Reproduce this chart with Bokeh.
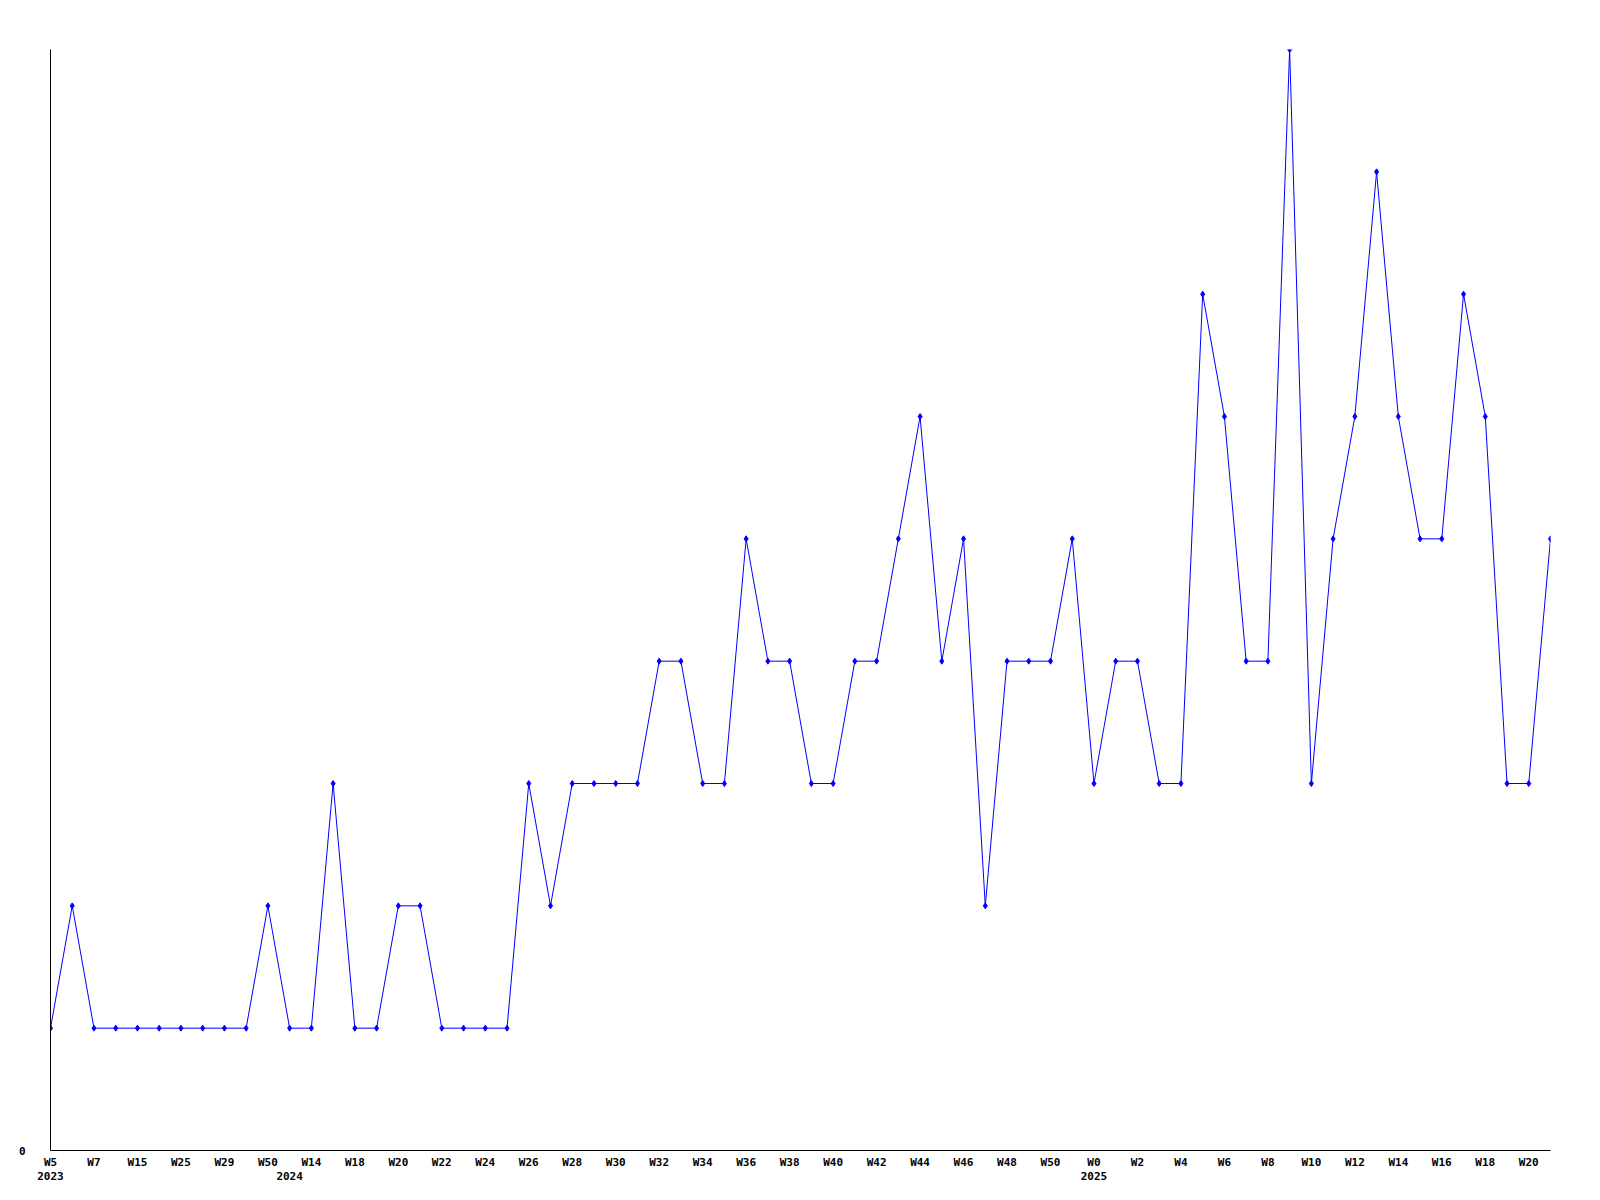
from bokeh.plotting import figure
from bokeh.models import Range1d, FixedTicker, LinearAxis
from bokeh.embed import file_html
from bokeh.resources import INLINE

# weekly counts, one per period (70 periods)
values = [1, 2, 1, 1, 1, 1, 1, 1, 1, 1,
          2, 1, 1, 3, 1, 1, 2, 2, 1, 1,
          1, 1, 3, 2, 3, 3, 3, 3, 4, 4,
          3, 3, 5, 4, 4, 3, 3, 4, 4, 5,
          6, 4, 5, 2, 4, 4, 4, 5, 3, 4,
          4, 3, 3, 7, 6, 4, 4, 9, 3, 5,
          6, 8, 6, 5, 5, 7, 6, 3, 3, 5]
x = list(range(len(values)))

# labelled tick positions (every second period) and their week labels
week_tick_idx = list(range(0, 70, 2))
week_tick_labels = ["W5", "W7", "W15", "W25", "W29", "W50", "W14", "W18", "W20", "W22",
                    "W24", "W26", "W28", "W30", "W32", "W34", "W36", "W38", "W40", "W42",
                    "W44", "W46", "W48", "W50", "W0", "W2", "W4", "W6", "W8", "W10",
                    "W12", "W14", "W16", "W18", "W20"]
year_tick_idx = [0, 11, 48]
year_tick_labels = ["2023", "2024", "2025"]

FONT = "DejaVu Sans Mono"

p = figure(width=1592, height=1192, output_backend="svg", toolbar_location=None,
           x_range=Range1d(0, len(values) - 1), y_range=Range1d(0, 9),
           min_border_left=50, min_border_right=42, min_border_top=49, min_border_bottom=42)
p.outline_line_color = None
p.xgrid.visible = False
p.ygrid.visible = False
p.background_fill_color = "white"
p.border_fill_color = "white"

# y axis: only the zero label
p.yaxis.ticker = FixedTicker(ticks=[0])
p.yaxis.major_tick_line_color = None
p.yaxis.minor_tick_line_color = None
p.yaxis.major_tick_out = 0
p.yaxis.major_tick_in = 0
p.yaxis.major_label_standoff = 25
p.yaxis.major_label_text_font = FONT
p.yaxis.major_label_text_font_style = "bold"
p.yaxis.major_label_text_font_size = "11px"
p.yaxis.major_label_text_color = "black"
p.yaxis.axis_line_color = "black"

# x axis: week labels
p.xaxis.ticker = FixedTicker(ticks=week_tick_idx)
p.xaxis.major_label_overrides = {i: t for i, t in zip(week_tick_idx, week_tick_labels)}
p.xaxis.major_tick_line_color = None
p.xaxis.minor_tick_line_color = None
p.xaxis.major_tick_out = 0
p.xaxis.major_tick_in = 0
p.xaxis.major_label_standoff = 5
p.xaxis.major_label_text_font = FONT
p.xaxis.major_label_text_font_style = "bold"
p.xaxis.major_label_text_font_size = "11px"
p.xaxis.major_label_text_color = "black"
p.xaxis.axis_line_color = "black"

# second row: years
year_axis = LinearAxis(ticker=FixedTicker(ticks=year_tick_idx),
                       major_label_overrides={i: t for i, t in zip(year_tick_idx, year_tick_labels)})
year_axis.axis_line_color = None
year_axis.major_tick_line_color = None
year_axis.minor_tick_line_color = None
year_axis.major_tick_out = 0
year_axis.major_tick_in = 0
year_axis.major_label_standoff = 0
year_axis.major_label_text_font = FONT
year_axis.major_label_text_font_style = "bold"
year_axis.major_label_text_font_size = "11px"
year_axis.major_label_text_color = "black"
p.add_layout(year_axis, "below")

p.line(x, values, line_color="#0000ff", line_width=1)
p.scatter(x, values, marker="diamond", size=6, fill_color="#0000ff", line_color="#0000ff")

open("out.html", "w").write(file_html(p, INLINE))
